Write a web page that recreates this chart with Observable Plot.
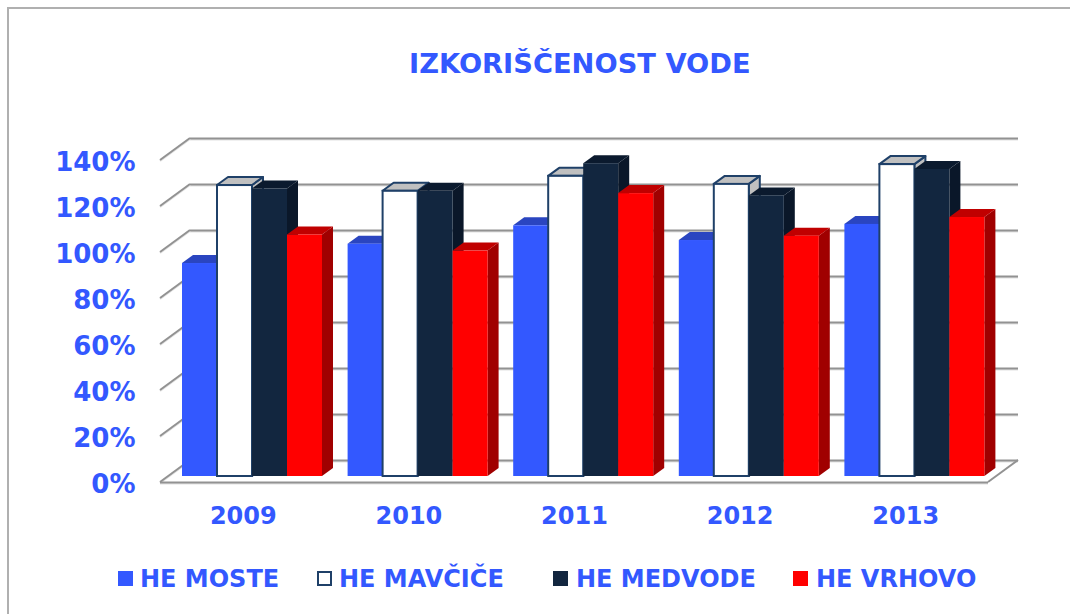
<!DOCTYPE html>
<html><head><meta charset="utf-8">
<script src="https://cdn.jsdelivr.net/npm/d3@7"></script>
<script src="https://cdn.jsdelivr.net/npm/@observablehq/plot@0.6"></script>
<style>
html,body{margin:0;padding:0;background:#fff;overflow:hidden}
#page{position:relative;width:1070px;height:614px;overflow:hidden;font-family:"DejaVu Sans",sans-serif;font-weight:bold;color:#3358ff}
#frame{position:absolute;left:7px;top:7px;width:1080px;height:620px;border-left:2px solid #b0b0b0;border-top:2px solid #b0b0b0;box-sizing:border-box}
#title{position:absolute;left:0;right:0;top:0;height:100px;box-sizing:border-box;padding:44px 0 0 409px;font-size:27.3px;line-height:40px;white-space:nowrap}
#chart{position:absolute;left:0;top:100px}
.lg{position:absolute;top:561px;font-size:24px;line-height:36px;white-space:nowrap}
.sw{position:absolute;top:571px;width:15px;height:15px;box-sizing:border-box}
</style></head><body>
<div id="page"><div id="frame"></div><div id="title">IZKORIŠČENOST VODE</div><div id="chart"></div></div>
<script>
const years = ["2009","2010","2011","2012","2013"];
const yTicks = [0,20,40,60,80,100,120,140];
const seriesNames = ["HE MOSTE","HE MAVČIČE","HE MEDVODE","HE VRHOVO"];
const moste   = [92.6,101,109,102.6,109.6];
const mavcice = [126.5,124,130.5,127,135.6];
const medvode = [125,124,136,122,133.5];
const vrhovo  = [105,98,123,104.5,112.6];
const values = [moste,mavcice,medvode,vrhovo];
const styles = [
 {front:"#3358ff",top:"#2a45c0",side:"#2438a8",stroke:"none"},
 {front:"#ffffff",top:"#c0c0c0",side:"#c0c0c0",stroke:"#1f4068"},
 {front:"#12263f",top:"#0b1a2e",side:"#0a1729",stroke:"none"},
 {front:"#ff0000",top:"#c00000",side:"#a00000",stroke:"none"}
];
const legendX = [[118,140],[317,339],[553,576],[793,816]];
const blue="#3358ff", grid="#929292";
const W=1070,H=440,mL=160,mR=82,mT=60,mB=58;
const band=(W-mL-mR)/5, barW=35, pad=22, lift=6, ddx=11, ddy=-8, wx=30, wy=-22;

function walls(index,scales){
  const g=d3.create("svg:g").attr("fill","none");
  yTicks.forEach(t=>{
    const y=scales.y(t);
    g.append("line").attr("x1",mL).attr("y1",y+1).attr("x2",mL+wx).attr("y2",y+wy+1).attr("stroke","#e2e2e2").attr("stroke-width",2);
    g.append("line").attr("x1",mL).attr("y1",y).attr("x2",mL+wx).attr("y2",y+wy).attr("stroke",grid).attr("stroke-width",2);
  });
  const y0=scales.y(0);
  g.append("line").attr("x1",W-mR).attr("y1",y0).attr("x2",W-mR+wx).attr("y2",y0+wy).attr("stroke",grid).attr("stroke-width",2);
  return g.node();
}
function depth(i){
  return (index,scales)=>{
    const g=d3.create("svg:g"), s=styles[i];
    years.forEach((yr,k)=>{
      const x0=scales.x(yr)+pad+i*barW, x1=x0+barW, yt=scales.y(values[i][k])-lift, yb=scales.y(0)-lift;
      const poly=(pts,fill,stroke)=>g.append("polygon").attr("points",pts.map(p=>p.join(",")).join(" ")).attr("fill",fill).attr("stroke",stroke||"none").attr("stroke-width",stroke?2:0).attr("stroke-linejoin","round");
      poly([[x1,yt],[x1+ddx,yt+ddy],[x1+ddx,yb+ddy],[x1,yb]],s.side,s.stroke==="none"?null:s.stroke);
      poly([[x0,yt],[x0+ddx,yt+ddy],[x1+ddx,yt+ddy],[x1,yt]],s.top,s.stroke==="none"?null:s.stroke);
    });
    return g.node();
  };
}
const marks=[
  Plot.ruleY(yTicks,{dx:wx,dy:wy+1,stroke:"#e2e2e2",strokeWidth:2}),
  Plot.ruleY(yTicks,{dx:wx,dy:wy,stroke:grid,strokeWidth:2}),
  walls,
  Plot.ruleY([0],{dy:1,stroke:"#e2e2e2",strokeWidth:2}),
  Plot.ruleY([0],{stroke:grid,strokeWidth:2})
];
values.forEach((vals,i)=>{
  const rows=years.map((year,k)=>({year,value:vals[k]}));
  marks.push(depth(i));
  marks.push(Plot.barY(rows,{x:"year",y:"value",fill:styles[i].front,stroke:styles[i].stroke,strokeWidth:2,dy:-lift,
    insetLeft:pad+i*barW,insetRight:band-pad-(i+1)*barW}));
});
const axisText={fontWeight:"bold",fill:blue,tickSize:0};
marks.push(Plot.axisY(yTicks,{...axisText,fontSize:26,tickPadding:25,dy:2,tickFormat:d=>d+"%",label:null}));
marks.push(Plot.axisX({...axisText,fontSize:24,tickPadding:24,label:null}));

const plot=Plot.plot({width:W,height:H,marginLeft:mL,marginRight:mR,marginTop:mT,marginBottom:mB,
  style:{fontFamily:'"DejaVu Sans",sans-serif',background:"transparent",overflow:"visible"},
  x:{type:"band",domain:years,padding:0,align:0,round:false},
  y:{domain:[0,140]},
  marks});
document.getElementById("chart").appendChild(plot);
const page=document.getElementById("page");
seriesNames.forEach((n,i)=>{
  const sw=document.createElement("div");sw.className="sw";sw.style.left=legendX[i][0]+"px";
  sw.style.background=styles[i].front;
  if(styles[i].stroke!=="none")sw.style.border="2px solid "+styles[i].stroke;
  page.appendChild(sw);
  const t=document.createElement("div");t.className="lg";t.style.left=legendX[i][1]+"px";t.textContent=n;
  page.appendChild(t);
});
</script>
</body></html>
